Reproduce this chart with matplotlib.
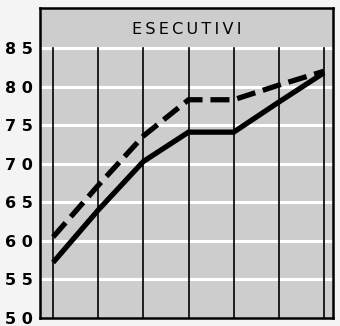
import matplotlib.pyplot as plt
import numpy as np

# indici per gruppo "esecutivi"
periodi = [0, 1, 2, 3, 4, 5, 6]
serie_a = [57.2, 64.0, 70.3, 74.1, 74.1, 78.0, 81.8]   # linea continua
serie_b = [60.5, 67.2, 73.6, 78.3, 78.3, 80.2, 82.0]   # linea tratteggiata
ytick_vals = [50, 55, 60, 65, 70, 75, 80, 85]
ytick_labels = ['5 0', '5 5', '6 0', '6 5', '7 0', '7 5', '8 0', '8 5']

fig = plt.figure(figsize=(3.4, 3.26), dpi=100)
fig.patch.set_facecolor('#f4f4f4')
ax = fig.add_axes([0.1176, 0.0245, 0.8618, 0.951])
ax.set_facecolor('#cdcdcd')

ax.set_xlim(-0.29, 6.2)
ax.set_ylim(50, 90.2)

# righe orizzontali bianche
for v in ytick_vals[1:]:
    ax.axhline(v, color='white', lw=2.2, zorder=1)
# colonne verticali nere fino a 85
for p in periodi:
    ax.plot([p, p], [50, 85], color='black', lw=1.2, zorder=2)

ax.plot(periodi, serie_a, color='black', lw=3.8, solid_capstyle='butt',
        solid_joinstyle='miter', zorder=3)
ax.plot(periodi, serie_b, color='black', lw=3.8, dashes=(3.6, 1.5),
        dash_capstyle='butt', zorder=3)

ax.text(0.5, 0.955, '\u2009'.join('ESECUTIVI'), transform=ax.transAxes,
        ha='center', va='top', fontsize=11.5, family='DejaVu Sans')

ax.set_xticks([])
ax.set_yticks(ytick_vals)
ax.set_yticklabels(ytick_labels, fontsize=11.5, fontweight='bold', family='DejaVu Sans')
ax.tick_params(axis='y', length=0, pad=25)
for lab in ax.get_yticklabels():
    lab.set_horizontalalignment('left')

for s in ax.spines.values():
    s.set_linewidth(1.8)
    s.set_color('black')

plt.savefig('out.png', dpi=100)
